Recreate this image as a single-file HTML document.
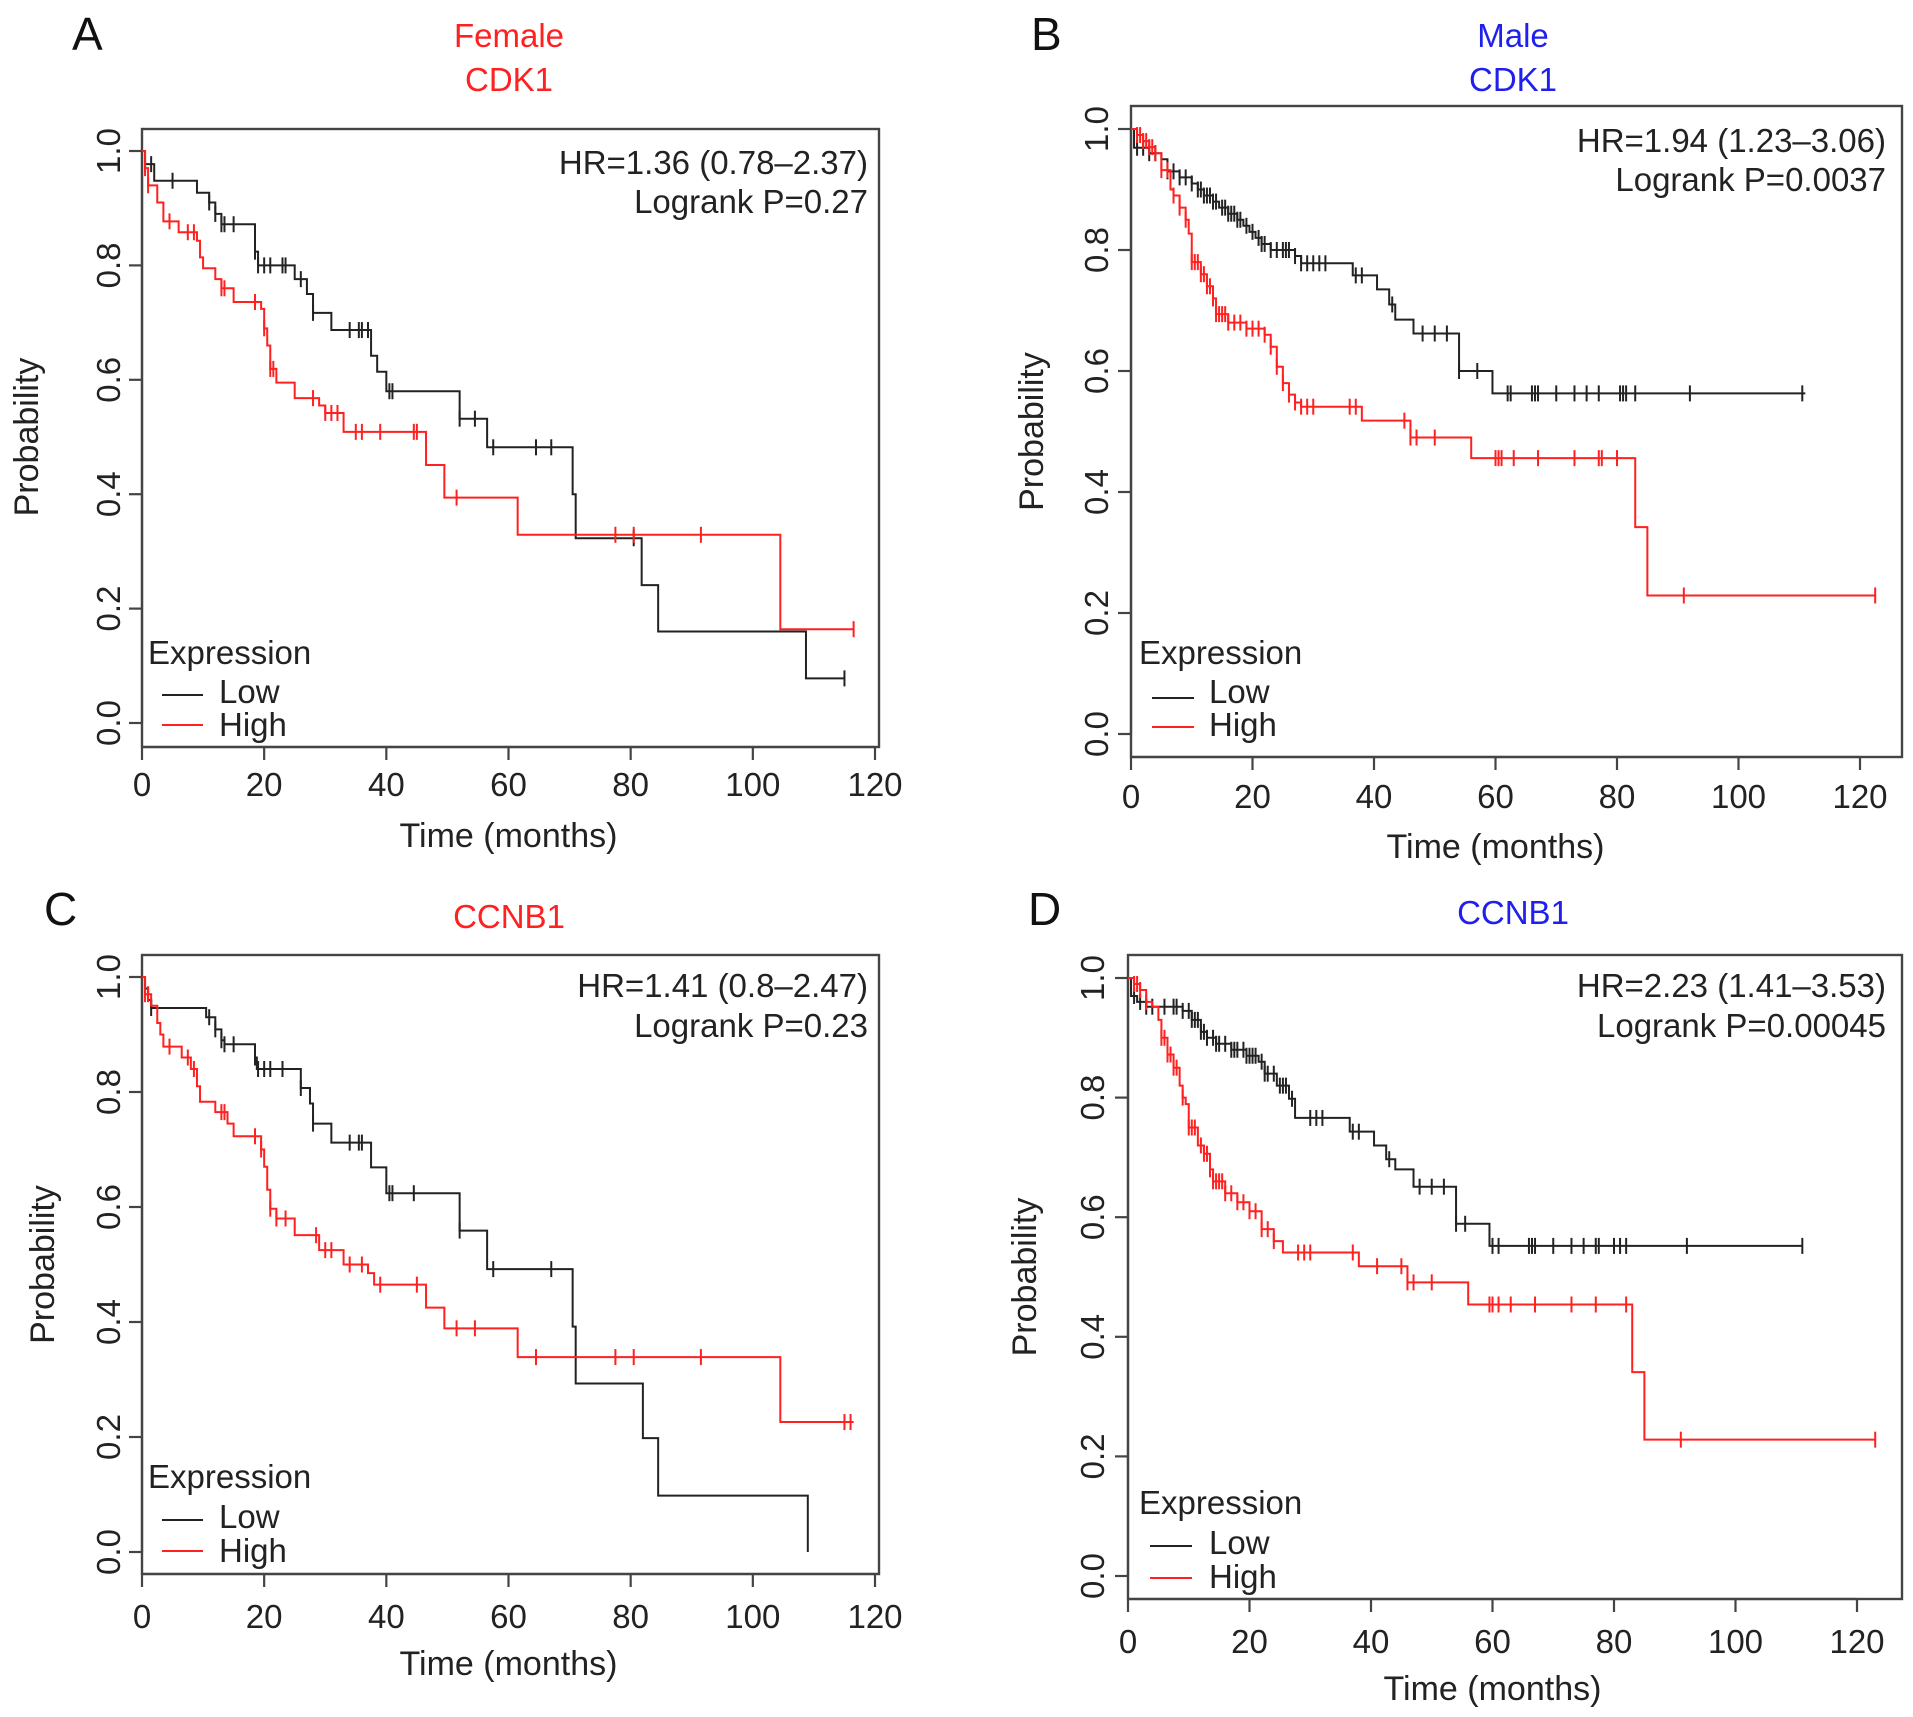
<!DOCTYPE html>
<html><head><meta charset="utf-8"><style>
html,body{margin:0;padding:0;background:#fff;}
svg{display:block;font-family:"Liberation Sans",Arial,sans-serif;}
</style></head><body>
<svg id="fig" width="1913" height="1717" viewBox="0 0 1913 1717" xmlns="http://www.w3.org/2000/svg">
<rect x="0" y="0" width="1913" height="1717" fill="#fff"/>
</svg>
<script>
// ---- Panel A data (Female CDK1) ----
const aLowT=[0.5,2,9,11,12,13,18.5,19,25,27,28,31,37.5,38.5,40,52,56.5,70.5,71,81.8,84.5,108.7];
const aLowS=[0.977,0.948,0.927,0.91,0.89,0.872,0.824,0.80,0.776,0.75,0.717,0.687,0.642,0.614,0.58,0.532,0.482,0.40,0.323,0.241,0.16,0.078];
const aLowC=[0.5,1.5,5,11,12,13,13.5,15,18.5,19,20,21,23,23.5,26,28,34,35.5,36,37,40.5,41,52,54.5,57.5,64.5,67,80.5,115];
const aHighT=[0.5,1,2.5,3.5,6,9,9.5,10,12,13,15,19.5,20,20.5,21,22,25,29,30,33,46.5,49.5,61.5,104.5];
const aHighS=[0.97,0.94,0.91,0.877,0.858,0.843,0.814,0.795,0.776,0.76,0.736,0.724,0.69,0.66,0.619,0.595,0.568,0.555,0.542,0.509,0.451,0.394,0.329,0.164];
const aHighC=[0.5,1,4.5,7.5,8.5,13,13.5,18.5,20,21,21.5,28,30,31,32,35,36,39,44.5,45,51.5,77.5,80.5,91.5,116.5];
// ---- Panel B data (Male CDK1) ----
const bLowT=[0.5,3,5,6,8,10,11,12,13.5,14.5,16,17.5,18.5,19.5,20.5,21.5,23,27,28,36.5,40.5,42.5,43.5,46.5,54,59.5];
const bLowS=[0.969,0.96,0.95,0.93,0.92,0.91,0.90,0.89,0.88,0.87,0.86,0.85,0.84,0.83,0.82,0.81,0.80,0.79,0.778,0.758,0.735,0.71,0.685,0.662,0.60,0.563];
const bLowC=[1,2,3,4,6,7,8,9,10,11,11.5,12,12.5,13,13.5,14,15,15.5,16,16.5,17,17.5,18,19,20,21,21.5,22,23,24,25,25.5,26,27,28,29,30,31,32,37,38,43,48,50,52,54,57,62,62.5,66,66.5,67,70,73,75,77,80.5,81,81.5,83,92,110.5];
const bHighT=[1,2,3,4,5,6.5,7,8,9,9.5,10,11.5,12.5,13.5,14,16,19,22,23,24,25,26,27,28,38,46,56,83,85];
const bHighS=[0.99,0.98,0.97,0.96,0.932,0.90,0.89,0.87,0.85,0.827,0.78,0.76,0.74,0.72,0.694,0.68,0.67,0.66,0.64,0.607,0.58,0.561,0.548,0.541,0.518,0.49,0.456,0.342,0.229];
const bHighC=[1,1.5,2,2.5,3,3.5,4,5,6,7,8,9,10,10.5,11,11.5,12,12.5,13,13.5,14,14.5,15,15.5,16,17,18,19,20,21,22,23,24,25,26,27,28,29,30,36,37,45,46,47,50,60,60.5,61,63,67,73,77,77.5,80,91,122.5];
// ---- Panel C data (Female CCNB1) ----
const cLowT=[0.5,1,1.5,10.5,12,13,13.5,18.5,18.8,26,27.5,28,31,37.5,40,52,56.5,70.5,71,82,84.5,109];
const cLowS=[0.98,0.96,0.946,0.93,0.909,0.89,0.883,0.86,0.84,0.807,0.78,0.745,0.712,0.669,0.624,0.559,0.492,0.392,0.293,0.198,0.098,0.0];
const cLowC=[0.5,1.5,11,12,13,13.5,15,18.5,19,20,21,23,26,28,34,35.5,36,40.5,41,44.5,52,57.5,67];
const cHighT=[0.5,1.5,2.5,3,3.5,6.5,8,9,9.5,12,14,15,19.5,20,20.5,21,22,25,29,33,37,38,46.5,49.5,61.5,104.5];
const cHighS=[0.97,0.95,0.92,0.90,0.879,0.86,0.84,0.81,0.783,0.765,0.745,0.723,0.70,0.67,0.63,0.597,0.58,0.551,0.525,0.50,0.485,0.465,0.425,0.389,0.339,0.226];
const cHighC=[0.5,1,4.5,7.5,8.5,13,13.5,18.5,19.5,21,22,23.5,28.5,30,31,34,36,39,45,51.5,54.5,64.5,77.5,80.5,91.5,115,116];
// ---- Panel D data (Male CCNB1) ----
const dLowT=[0.5,1.5,3,9,10.5,12,13,14.5,17,19.5,21.5,22.5,24.5,26.5,27.5,36.5,40.5,42.5,44,47,54,59.5];
const dLowS=[0.97,0.96,0.952,0.945,0.93,0.91,0.90,0.89,0.88,0.87,0.86,0.84,0.82,0.798,0.766,0.743,0.72,0.697,0.68,0.651,0.589,0.552];
const dLowC=[1,2,3,4,6,7.5,8,9,10,10.5,11,11.5,12,12.5,13,14,14.5,15,16,17,17.5,18,19,19.5,20,20.5,21,22,22.5,23,24,25,25.5,26,27,30,31,32,37,38,43,48,50,52,54,55.5,60,61,66,66.5,67,70,73,75,77,77.5,80,81,82,92,111];
const dHighT=[1,2,3,4,5,5.5,6.5,7.5,8.5,9,9.5,10,11.5,12.5,13.5,14,16,18,20,22,24,25.5,38,46,56,83,85];
const dHighS=[0.99,0.98,0.96,0.952,0.93,0.90,0.872,0.85,0.82,0.80,0.789,0.75,0.72,0.706,0.68,0.66,0.64,0.625,0.61,0.58,0.56,0.541,0.518,0.491,0.454,0.341,0.228];
const dHighC=[1,1.5,2,3,5.5,6,6.5,7,7.5,8,9,10,10.5,11,12,12.5,13,13.5,14,14.5,15,15.5,16,17,18,19,20,21,22,23,24,28,29,30,37,41,45,46,47,50,59.5,60,61,63,67,73,77,82,91,123];
// ---- tick labels ----
const xTicks=[0,20,40,60,80,100,120];
const yTicks=[0,0.2,0.4,0.6,0.8,1.0];
const yTickLabels=["0.0","0.2","0.4","0.6","0.8","1.0"];

const svg=document.getElementById('fig');
const NS='http://www.w3.org/2000/svg';
function mk(tag,attrs,parent){const e=document.createElementNS(NS,tag);for(const k in attrs)e.setAttribute(k,attrs[k]);(parent||svg).appendChild(e);return e;}
function txt(s,attrs,parent){const e=mk('text',attrs,parent);e.textContent=s;return e;}

const FS=33;
const panels=[
 {id:'a',letter:'A',lx:72,ly:50,titles:[['Female',509,47],['CDK1',509,91]],tcol:'#ff2020',
  L:142,T:129,R:879,B:747,x0:142,x120:875,y1:151,y0:723,
  hrR:868,hrY:174,lgY:213,hr:'HR=1.36 (0.78\u20132.37)',lr:'Logrank P=0.27',
  legX:148,expY:664,lowY:703,highY:736,lineX1:162,lineX2:203,lineLowY:695,lineHighY:725,legTX:219,
  ytx:108,ylx:26,xtY:796,xlY:847,
  lowT:aLowT,lowS:aLowS,lowC:aLowC,lowEnd:115,highT:aHighT,highS:aHighS,highC:aHighC,highEnd:116.5},
 {id:'b',letter:'B',lx:1031,ly:50,titles:[['Male',1513,47],['CDK1',1513,91]],tcol:'#2020ee',
  L:1131,T:106,R:1902,B:757,x0:1131,x120:1860,y1:129,y0:734,
  hrR:1886,hrY:152,lgY:191,hr:'HR=1.94 (1.23\u20133.06)',lr:'Logrank P=0.0037',
  legX:1139,expY:664,lowY:703,highY:736,lineX1:1152,lineX2:1194,lineLowY:698,lineHighY:727,legTX:1209,
  ytx:1096,ylx:1031,xtY:808,xlY:858,
  lowT:bLowT,lowS:bLowS,lowC:bLowC,lowEnd:111,highT:bHighT,highS:bHighS,highC:bHighC,highEnd:122.5},
 {id:'c',letter:'C',lx:44,ly:925,titles:[['CCNB1',509,928]],tcol:'#ff2020',
  L:142,T:955,R:879,B:1574,x0:142,x120:875,y1:977,y0:1552,
  hrR:868,hrY:997,lgY:1037,hr:'HR=1.41 (0.8\u20132.47)',lr:'Logrank P=0.23',
  legX:148,expY:1488,lowY:1528,highY:1562,lineX1:162,lineX2:203,lineLowY:1520,lineHighY:1551,legTX:219,
  ytx:108,ylx:42,xtY:1628,xlY:1675,
  lowT:cLowT,lowS:cLowS,lowC:cLowC,lowEnd:109,highT:cHighT,highS:cHighS,highC:cHighC,highEnd:116.5},
 {id:'d',letter:'D',lx:1028,ly:925,titles:[['CCNB1',1513,924]],tcol:'#2020ee',
  L:1128,T:955,R:1902,B:1599,x0:1128,x120:1857,y1:978,y0:1576,
  hrR:1886,hrY:997,lgY:1037,hr:'HR=2.23 (1.41\u20133.53)',lr:'Logrank P=0.00045',
  legX:1139,expY:1514,lowY:1554,highY:1588,lineX1:1150,lineX2:1192,lineLowY:1546,lineHighY:1578,legTX:1209,
  ytx:1092,ylx:1024,xtY:1653,xlY:1700,
  lowT:dLowT,lowS:dLowS,lowC:dLowC,lowEnd:111,highT:dHighT,highS:dHighS,highC:dHighC,highEnd:123}
];

function survAt(T,S,t){let s=1;for(let i=0;i<T.length;i++){if(T[i]<=t)s=S[i];else break;}return s;}

panels.forEach(p=>{
  const g=mk('g',{});
  
  
  const X=t=>p.x0+(p.x120-p.x0)*t/120;
  const Y=v=>p.y0+(p.y1-p.y0)*v;
  const L=txt(p.letter,{x:p.lx,y:p.ly,'font-size':46,fill:'#111'},g);
  
  
  p.titles.forEach((tt,i)=>{
    const e=txt(tt[0],{x:tt[1],y:tt[2],'font-size':33,fill:p.tcol,'text-anchor':'middle'},g);
    
    
  });
  const box=mk('rect',{x:p.L,y:p.T,width:p.R-p.L,height:p.B-p.T,fill:'none',stroke:'#444','stroke-width':2.4},g);
  
  
  const xa=mk('g',{},g);
  
  
  mk('line',{x1:X(0),x2:X(120),y1:p.B,y2:p.B,stroke:'#444','stroke-width':2.2},xa);
  xTicks.forEach(v=>{
    mk('line',{x1:X(v),x2:X(v),y1:p.B,y2:p.B+13,stroke:'#444','stroke-width':2.2},xa);
    const e=txt(String(v),{x:X(v),y:p.xtY,'font-size':FS,'text-anchor':'middle',fill:'#222'},xa);
    
    
  });
  const xl=txt('Time (months)',{x:(X(0)+X(120))/2,y:p.xlY,'font-size':34,'text-anchor':'middle',fill:'#222'},g);
  
  
  const ya=mk('g',{},g);
  
  
  mk('line',{x1:p.L,x2:p.L,y1:Y(0),y2:Y(1),stroke:'#444','stroke-width':2.2},ya);
  yTicks.forEach((v,i)=>{
    mk('line',{x1:p.L-13,x2:p.L,y1:Y(v),y2:Y(v),stroke:'#444','stroke-width':2.2},ya);
    const e=txt(yTickLabels[i],{x:0,y:0,'font-size':FS,'text-anchor':'middle',fill:'#222',transform:`translate(${p.ytx+12},${Y(v)}) rotate(-90)`},ya);
    
    
  });
  const yl=txt('Probability',{x:0,y:0,'font-size':34,'text-anchor':'middle',fill:'#222',transform:`translate(${p.ylx+12},${(Y(0)+Y(1))/2}) rotate(-90)`},g);
  
  
  [['low',p.lowT,p.lowS,p.lowC,p.lowEnd,'#222'],['high',p.highT,p.highS,p.highC,p.highEnd,'#ff2020']].forEach(c=>{
    const [nm,T,S,C,end,col]=c;
    const cg=mk('g',{},g);
    
    
    let d=`M${X(0)},${Y(1)}`;
    for(let i=0;i<T.length;i++){d+=`H${X(T[i])}V${Y(S[i])}`;}
    d+=`H${X(Math.max(end,T[T.length-1]))}`;
    const path=mk('path',{d:d,fill:'none',stroke:col,'stroke-width':2},cg);
    
    
    C.forEach(t=>{
      const cy=Y(survAt(T,S,t));
      const m=mk('line',{x1:X(t),x2:X(t),y1:cy-8,y2:cy+8,stroke:col,'stroke-width':2},cg);
      
      
    });
  });
  const hr=txt(p.hr,{x:p.hrR,y:p.hrY,'font-size':FS,'text-anchor':'end',fill:'#222'},g);
  
  
  const lr=txt(p.lr,{x:p.hrR,y:p.lgY,'font-size':FS,'text-anchor':'end',fill:'#222'},g);
  
  
  const lg=mk('g',{},g);
  
  
  txt('Expression',{x:p.legX,y:p.expY,'font-size':FS,fill:'#222'},lg);
  mk('line',{x1:p.lineX1,x2:p.lineX2,y1:p.lineLowY,y2:p.lineLowY,stroke:'#222','stroke-width':2},lg);
  mk('line',{x1:p.lineX1,x2:p.lineX2,y1:p.lineHighY,y2:p.lineHighY,stroke:'#ff2020','stroke-width':2},lg);
  const lo=txt('Low',{x:p.legTX,y:p.lowY,'font-size':FS,fill:'#222'},lg);
  
  
  const hi=txt('High',{x:p.legTX,y:p.highY,'font-size':FS,fill:'#222'},lg);
  
  
});
</script>
</body></html>
